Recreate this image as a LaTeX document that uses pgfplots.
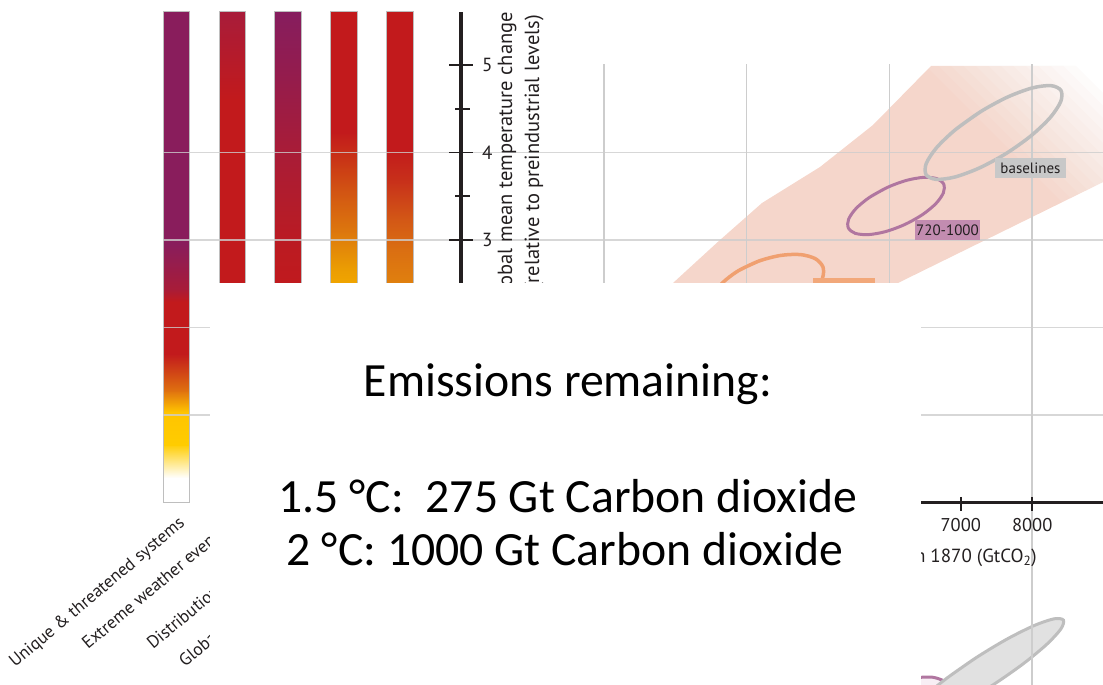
\documentclass[border=0pt]{standalone}
\usepackage{fontspec}
\usepackage{pgfplots}
\pgfplotsset{compat=1.18}
\newfontfamily\chartfont{PT Sans}
\newfontfamily\boxfont{Carlito}

\definecolor{ink}{RGB}{35,31,32}
\definecolor{plume}{RGB}{245,214,203}
\definecolor{gridc}{RGB}{205,205,205}
\definecolor{barline}{RGB}{190,190,190}
\definecolor{ellgray}{RGB}{190,190,190}
\definecolor{ellfill}{RGB}{225,225,225}
\definecolor{labgray}{RGB}{200,200,200}
\definecolor{ellpurple}{RGB}{176,118,160}
\definecolor{labpurple}{RGB}{194,140,176}
\definecolor{ellorange}{RGB}{240,160,112}
\definecolor{laborange}{RGB}{242,168,122}
% ember colours
\definecolor{W}{RGB}{255,255,255}
\definecolor{P1}{RGB}{137,29,92}
\definecolor{C1}{RGB}{168,28,56}
\definecolor{R}{RGB}{194,26,28}
\definecolor{O1}{RGB}{224,115,15}
\definecolor{Y1}{RGB}{255,196,0}
\definecolor{Y2}{RGB}{255,204,0}
\definecolor{C2a}{RGB}{168,28,58}
\definecolor{B3a}{RGB}{134,29,94}
\definecolor{B3b}{RGB}{150,28,75}
\definecolor{B3c}{RGB}{168,28,56}
\definecolor{B3d}{RGB}{178,28,44}
\definecolor{B3e}{RGB}{188,27,33}
\definecolor{B3f}{RGB}{192,26,30}
\definecolor{B4b}{RGB}{203,60,21}
\definecolor{B4c}{RGB}{212,92,18}
\definecolor{B4d}{RGB}{221,120,13}
\definecolor{B4e}{RGB}{234,155,3}
\definecolor{B4f}{RGB}{240,165,0}
\definecolor{B4g}{RGB}{255,200,0}
\definecolor{B5b}{RGB}{200,50,26}
\definecolor{B5c}{RGB}{210,85,22}
\definecolor{B5d}{RGB}{218,110,18}
\definecolor{B5e}{RGB}{224,128,14}

% one shaded piece of an ember: x-left, x-right, y-bottom, y-top, top colour, bottom colour
\newcommand{\seg}[6]{%
  \addplot[draw=none, top color=#5, bottom color=#6]
    coordinates {(#1,#3) (#2,#3) (#2,#4) (#1,#4)} -- cycle;}
\newcommand{\barframe}[2]{%
  \addplot[draw=barline, line width=1pt]
    coordinates {(#1,0) (#2,0) (#2,5.606) (#1,5.606)} -- cycle;}
% nested white veils that fade the upper end of the plume: opacity, x at top, x at bottom
\newcommand{\veil}[3]{%
  \addplot[fill=white, fill opacity=#1, draw=none]
    coordinates {(#2,5.0571) (17000,5.0571) (17000,2.7714) (#3,2.7714)} -- cycle;}
% ember name, set from the start of its baseline
\newcommand{\embername}[3]{%
  \node[rotate=40, anchor=base west, inner sep=0pt, text=ink,
        font=\chartfont\fontsize{17.5}{21}\selectfont] at (axis cs:#1,#2) {#3};}

\begin{document}
\begin{tikzpicture}
\begin{axis}[name=ax, hide axis, scale only axis,
  width=1103pt, height=684pt,
  xmin=-6456.8, xmax=8991.9, ymin=-2.0743, ymax=5.7429]

% ---- plume of scenario outcomes
\addplot[fill=plume, draw=none] coordinates {
  (2507.1,1.9714) (2969.3,2.5086) (3600.0,2.9800) (4215.8,3.4229) (5028.2,3.8343)
  (5770.5,4.3143) (6582.8,4.9886) (9089.9,4.9886) (9089.9,3.7006)
  (6120.6,2.5086) (5588.4,2.0857)} -- cycle;
\veil{0.0769}{6428.8}{9230.0}
\veil{0.0833}{6603.9}{9405.1}
\veil{0.0909}{6779.0}{9580.2}
\veil{0.1000}{6954.0}{9755.2}
\veil{0.1111}{7129.1}{9930.3}
\veil{0.1250}{7304.2}{10105.4}
\veil{0.1429}{7479.3}{10280.5}
\veil{0.1667}{7654.4}{10455.6}
\veil{0.2000}{7829.4}{10630.6}
\veil{0.2500}{8004.5}{10805.7}
\veil{0.3333}{8179.6}{10980.8}
\veil{0.5000}{8354.7}{11155.9}
\veil{1}{8529.8}{11331.0}

% ---- embers (reasons for concern)
% Unique & threatened systems
\seg{-4173.7}{-3795.7}{0}{0.292}{W}{W}
\seg{-4173.7}{-3795.7}{0.280}{0.669}{Y2}{W}
\seg{-4173.7}{-3795.7}{0.657}{1.046}{Y1}{Y2}
\seg{-4173.7}{-3795.7}{1.034}{1.275}{O1}{Y1}
\seg{-4173.7}{-3795.7}{1.263}{1.698}{R}{O1}
\seg{-4173.7}{-3795.7}{1.686}{2.303}{R}{R}
\seg{-4173.7}{-3795.7}{2.291}{2.441}{C1}{R}
\seg{-4173.7}{-3795.7}{2.429}{2.955}{P1}{C1}
\seg{-4173.7}{-3795.7}{2.943}{5.606}{P1}{P1}
% Extreme weather events
\seg{-3389.4}{-3011.4}{0}{0.312}{W}{W}
\seg{-3389.4}{-3011.4}{0.3}{0.812}{Y2}{W}
\seg{-3389.4}{-3011.4}{0.8}{1.212}{O1}{Y2}
\seg{-3389.4}{-3011.4}{1.2}{1.712}{R}{O1}
\seg{-3389.4}{-3011.4}{1.7}{4.612}{R}{R}
\seg{-3389.4}{-3011.4}{4.6}{5.606}{C2a}{R}
% Distribution of impacts
\seg{-2612.0}{-2234.0}{0}{0.212}{W}{W}
\seg{-2612.0}{-2234.0}{0.2}{0.712}{Y2}{W}
\seg{-2612.0}{-2234.0}{0.7}{1.012}{O1}{Y2}
\seg{-2612.0}{-2234.0}{1.0}{1.512}{R}{O1}
\seg{-2612.0}{-2234.0}{1.5}{2.522}{B3f}{R}
\seg{-2612.0}{-2234.0}{2.51}{2.902}{B3e}{B3f}
\seg{-2612.0}{-2234.0}{2.89}{3.472}{B3d}{B3e}
\seg{-2612.0}{-2234.0}{3.46}{4.042}{B3c}{B3d}
\seg{-2612.0}{-2234.0}{4.03}{4.812}{B3b}{B3c}
\seg{-2612.0}{-2234.0}{4.8}{5.606}{B3a}{B3b}
% Global aggregate impacts
\seg{-1827.7}{-1449.7}{0}{0.312}{W}{W}
\seg{-1827.7}{-1449.7}{0.3}{1.012}{Y2}{W}
\seg{-1827.7}{-1449.7}{1.0}{2.012}{B4g}{Y2}
\seg{-1827.7}{-1449.7}{2.0}{2.522}{B4f}{B4g}
\seg{-1827.7}{-1449.7}{2.51}{2.702}{B4e}{B4f}
\seg{-1827.7}{-1449.7}{2.69}{3.092}{B4d}{B4e}
\seg{-1827.7}{-1449.7}{3.08}{3.472}{B4c}{B4d}
\seg{-1827.7}{-1449.7}{3.46}{3.842}{B4b}{B4c}
\seg{-1827.7}{-1449.7}{3.83}{4.232}{R}{B4b}
\seg{-1827.7}{-1449.7}{4.22}{5.606}{R}{R}
% Large-scale singular events
\seg{-1043.4}{-665.4}{0}{0.412}{W}{W}
\seg{-1043.4}{-665.4}{0.4}{1.212}{Y2}{W}
\seg{-1043.4}{-665.4}{1.2}{2.012}{B4f}{Y2}
\seg{-1043.4}{-665.4}{2.0}{2.522}{B5e}{B4f}
\seg{-1043.4}{-665.4}{2.51}{2.902}{B5d}{B5e}
\seg{-1043.4}{-665.4}{2.89}{3.272}{B5c}{B5d}
\seg{-1043.4}{-665.4}{3.26}{3.662}{B5b}{B5c}
\seg{-1043.4}{-665.4}{3.65}{4.042}{R}{B5b}
\seg{-1043.4}{-665.4}{4.03}{5.606}{R}{R}
\barframe{-4173.7}{-3795.7}
\barframe{-3389.4}{-3011.4}
\barframe{-2612.0}{-2234.0}
\barframe{-1827.7}{-1449.7}
\barframe{-1043.4}{-665.4}

% ---- lower panel scenario ranges
\addplot[smooth, fill={rgb,255:red,248;green,238;blue,244}, draw=ellpurple, line width=3pt] coordinates {
  (6204.8,-2.0550) (6022.3,-2.1494) (5890.9,-2.2705) (5830.7,-2.3996) (5851.0,-2.5174)
  (5948.6,-2.6058) (6108.6,-2.6513) (6306.6,-2.6470) (6512.6,-2.5936) (6695.1,-2.4992)
  (6826.5,-2.3781) (6886.7,-2.2490) (6866.4,-2.1312) (6768.8,-2.0428) (6608.8,-1.9973)
  (6410.8,-2.0016) (6204.8,-2.0550) (6022.3,-2.1494)};
\addplot[smooth, fill=ellfill, draw=ellgray, line width=3pt] coordinates {
  (7217.1,-1.7723) (6806.0,-2.0067) (6476.2,-2.2288) (6277.7,-2.4046) (6240.8,-2.5076)
  (6371.0,-2.5220) (6648.7,-2.4457) (7031.5,-2.2902) (7461.1,-2.0791) (7872.2,-1.8447)
  (8202.0,-1.6226) (8400.5,-1.4468) (8437.4,-1.3438) (8307.2,-1.3294) (8029.5,-1.4057)
  (7646.7,-1.5612) (7217.1,-1.7723) (6806.0,-2.0067)};

% ---- grid
\pgfplotsinvokeforeach{1,2,3,4}{
  \addplot[draw=gridc, draw opacity=0.8, line width=1.5pt] coordinates {(-4173.7,#1) (9000,#1)};}
\pgfplotsinvokeforeach{2000,4000,6000}{
  \addplot[draw=gridc, line width=1.5pt] coordinates {(#1,0) (#1,5.0114)};}
\addplot[draw=gridc, line width=1.5pt] coordinates {(8000,-2.2) (8000,5.0114)};

% ---- scenario ranges, upper panel
\addplot[smooth, draw=ellorange, line width=3.5pt] coordinates {
  (4168.0,2.7582) (3883.4,2.6482) (3662.2,2.5100) (3538.0,2.3646) (3529.9,2.2342)
  (3638.9,2.1386) (3848.5,2.0924) (4126.8,2.1026) (4431.6,2.1676) (4716.2,2.2776)
  (4937.4,2.4158) (5061.6,2.5612) (5069.7,2.6916) (4960.7,2.7872) (4751.1,2.8334)
  (4472.8,2.8232) (4168.0,2.7582) (3883.4,2.6482)};
\addplot[fill=laborange, draw=none] coordinates {(4930.1,2.2914) (5798.5,2.2914) (5798.5,2.5657) (4930.1,2.5657)} -- cycle;
\addplot[smooth, draw=ellpurple, line width=3pt] coordinates {
  (5973.1,3.6016) (5726.3,3.4897) (5535.4,3.3625) (5429.3,3.2392) (5424.1,3.1388)
  (5520.6,3.0763) (5704.3,3.0613) (5947.1,3.0961) (6212.1,3.1756) (6458.9,3.2875)
  (6649.8,3.4147) (6755.9,3.5380) (6761.1,3.6384) (6664.6,3.7009) (6480.9,3.7159)
  (6238.1,3.6811) (5973.1,3.6016) (5726.3,3.4897)};
\addplot[smooth, draw=ellgray, line width=3.5pt] coordinates {
  (7276.4,4.4661) (6928.9,4.2638) (6662.0,4.0560) (6516.2,3.8747) (6513.9,3.7471)
  (6655.4,3.6929) (6919.1,3.7203) (7264.8,3.8249) (7640.0,3.9911) (7987.5,4.1934)
  (8254.4,4.4012) (8400.2,4.5825) (8402.5,4.7101) (8261.0,4.7643) (7997.3,4.7369)
  (7651.6,4.6323) (7276.4,4.4661) (6928.9,4.2638)};
\addplot[fill=labpurple, draw=none] coordinates {(6358.7,3.0) (7269.1,3.0) (7269.1,3.2286) (6358.7,3.2286)} -- cycle;
\node[font=\chartfont\fontsize{15}{18}\selectfont, text=ink, inner sep=0pt] at (axis cs:6814,3.114) {720-1000};
\addplot[fill=labgray, draw=none] coordinates {(7479.2,3.7086) (8473.6,3.7086) (8473.6,3.9371) (7479.2,3.9371)} -- cycle;
\node[font=\chartfont\fontsize{15}{18}\selectfont, text=ink, inner sep=0pt] at (axis cs:7976,3.823) {baselines};

% ---- axes
\addplot[draw=ink, line width=3.5pt] coordinates {(0,0) (0,5.606)};
\addplot[draw=ink, line width=3.5pt] coordinates {(0,0) (9000,0)};
\pgfplotsinvokeforeach{1,2,3,4,5}{
  \addplot[draw=ink, line width=1.8pt] coordinates {(-168,#1) (168,#1)};}
\pgfplotsinvokeforeach{0.5,1.5,2.5,3.5,4.5}{
  \addplot[draw=ink, line width=1.8pt] coordinates {(-84,#1) (126,#1)};}
\pgfplotsinvokeforeach{1000,2000,3000,4000,5000,6000,7000,8000}{
  \addplot[draw=ink, line width=1.8pt] coordinates {(#1,0.063) (#1,-0.097)};}
\pgfplotsinvokeforeach{3,4,5}{
  \node[anchor=west, inner sep=0pt, text=ink, font=\chartfont\fontsize{19}{22}\selectfont] at (axis cs:294,#1) {#1};}
\pgfplotsinvokeforeach{7000,8000}{
  \node[anchor=north, inner sep=0pt, text=ink, font=\chartfont\fontsize{18.5}{22}\selectfont] at (axis cs:#1,-0.1771) {#1};}
\node[anchor=base east, inner sep=0pt, text=ink, font=\chartfont\fontsize{19}{22}\selectfont]
  at (axis cs:8067.5,-0.68) {\phantom{Cumulative anthropogenic CO\textsubscript{2} emissions fro}m 1870 (GtCO\textsubscript{2})};
\node[rotate=90, anchor=east, inner sep=0pt, text=ink, font=\chartfont\fontsize{20.5}{24}\selectfont]
  at (axis cs:644.3,5.606) {Global mean temperature change};
\node[rotate=90, anchor=east, inner sep=0pt, text=ink, font=\chartfont\fontsize{20.5}{24}\selectfont]
  at (axis cs:1022.4,5.571) {(relative to preindustrial levels)};

% ---- ember names
\embername{-6246.7}{-1.8914}{Unique \& threatened systems}
\embername{-5224.2}{-1.6857}{Extreme weather events}
\embername{-4313.8}{-1.6857}{Distribution}
\embername{-3865.7}{-1.8914}{Global}

% ---- remaining budget panel
\addplot[fill=white, draw=none] coordinates {(-3515.5,-2.2) (6442.8,-2.2) (6442.8,2.5086) (-3515.5,2.5086)} -- cycle;
\node[anchor=base, inner sep=0pt, font=\boxfont\fontsize{47.7}{57}\selectfont] at (axis cs:1498.6,1.2171) {Emissions remaining:};
\node[anchor=base, inner sep=0pt, font=\boxfont\fontsize{47.7}{57}\selectfont] at (axis cs:1498.6,-0.1086) {1.5 °C:\ \ 275 Gt Carbon dioxide};
\node[anchor=base, inner sep=0pt, font=\boxfont\fontsize{47.7}{57}\selectfont] at (axis cs:1456.6,-0.7257) {2 °C: 1000 Gt Carbon dioxide};
\end{axis}
\pgfresetboundingbox
\path[use as bounding box] (ax.south west) rectangle (ax.north east);
\end{tikzpicture}
\end{document}
